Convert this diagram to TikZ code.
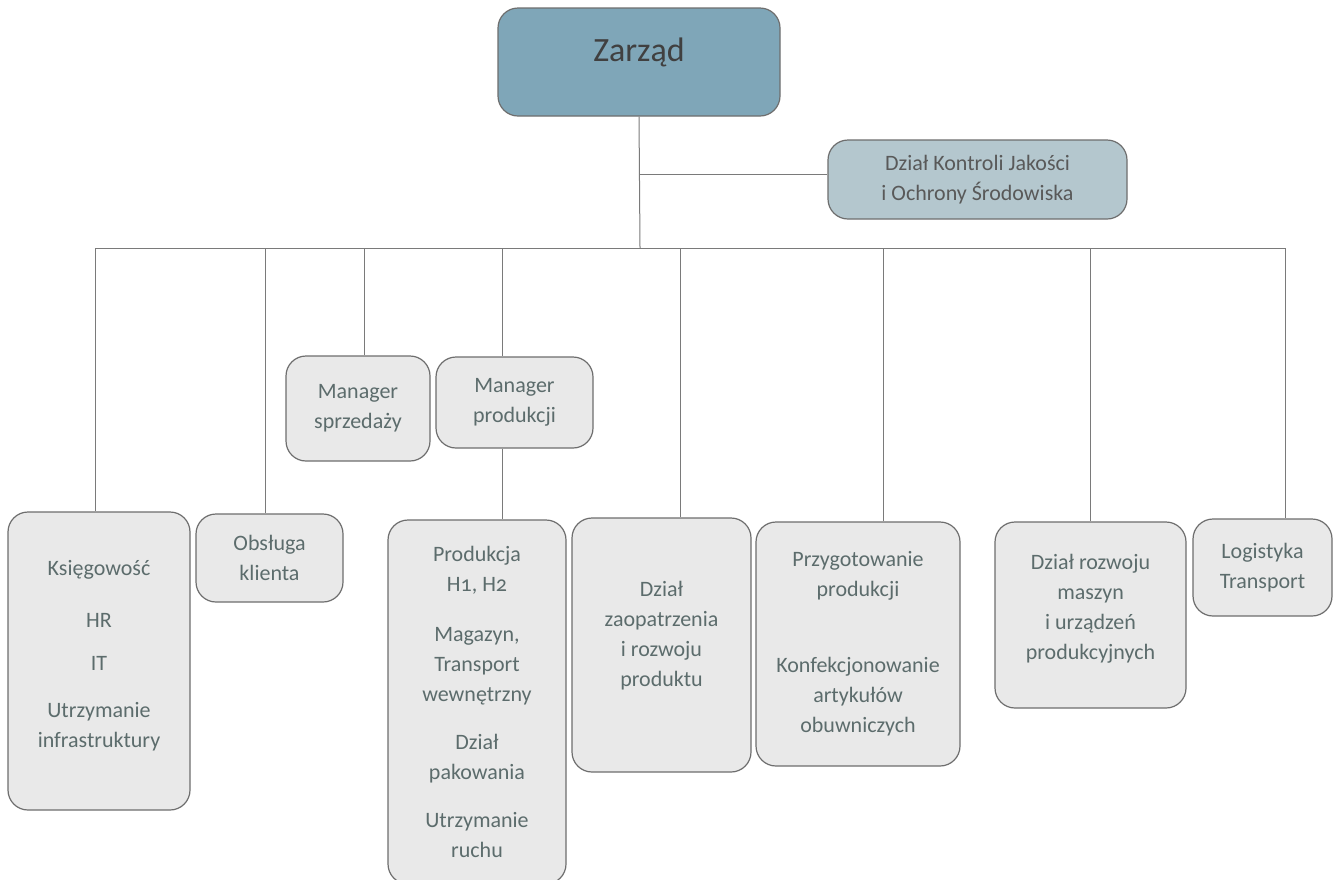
\documentclass[tikz,border=0pt]{standalone}
\usepackage{fontspec}
\setmainfont{Carlito}
\usepackage{tikz}
\usetikzlibrary{positioning}
\usetikzlibrary{calc}
\definecolor{boardfill}{HTML}{7FA6B8}
\definecolor{qcfill}{HTML}{B4C7CE}
\definecolor{deptfill}{HTML}{E9E9E9}
\definecolor{depttext}{HTML}{5C6C6C}
\definecolor{linegray}{HTML}{7A7A7A}
\tikzset{every picture/.style={line width=0.6pt},
  dept/.style={draw=linegray!90!black,fill=deptfill,rounded corners=10pt,align=center,text=depttext,font=\fontsize{11}{15}\selectfont,inner sep=2pt},
  conn/.style={draw=linegray,line width=0.5pt}}

\begin{document}
\begin{tikzpicture}[x=0.5pt,y=-0.5pt]
\useasboundingbox (0,0) rectangle (1336,879);
\fill[white] (0,0) rectangle (1336,879);

\node (zarzad) at (639,62) [dept,fill=boardfill,text=black!75,minimum width=141pt,minimum height=54pt,font=\fontsize{17}{20}\selectfont] {Zarząd\\[-8pt]};
\node (qc) at (977.5,179.5) [dept,fill=qcfill,text=black!65,minimum width=149.5pt,minimum height=39.5pt] {Dział Kontroli Jakości\\i Ochrony Środowiska};

\node (ksieg) at (99,661) [dept,minimum width=91pt,minimum height=149pt] {Księgowość\\[11pt]HR\\[6.5pt]IT\\[8.5pt]Utrzymanie\\infrastruktury\\[-8pt]};
\node (obsl) at (269.5,558) [dept,minimum width=73.5pt,minimum height=44pt] {Obsługa\\klienta};
\node (msprz) at (358,408.5) [dept,minimum width=72pt,minimum height=52.5pt] {Manager\\sprzedaży};
\node (mprod) at (514.5,402.5) [dept,minimum width=78.5pt,minimum height=45.5pt] {Manager\\produkcji};
\node (prod) at (477,702) [dept,minimum width=89pt,minimum height=182pt] {Produkcja\\{\addfontfeatures{Numbers=OldStyle}H1, H2}\\[10pt]Magazyn,\\Transport\\wewnętrzny\\[9pt]Dział\\pakowania\\[9pt]Utrzymanie\\ruchu};
\node (zaop) at (661.5,645) [dept,minimum width=89.5pt,minimum height=127pt] {Dział\\zaopatrzenia\\i rozwoju\\produktu\\[-4pt]};
\node (przyg) at (858,644) [dept,minimum width=102pt,minimum height=122pt] {Przygotowanie\\produkcji\\[23pt]Konfekcjonowanie\\artykułów\\obuwniczych};
\node (rozw) at (1090.5,615) [dept,minimum width=95.5pt,minimum height=93pt] {Dział rozwoju\\maszyn\\i urządzeń\\produkcyjnych\\[-7pt]};
\node (logi) at (1262.5,567.5) [dept,minimum width=69.5pt,minimum height=48.5pt] {Logistyka\\Transport};

% connectors
\coordinate (bus) at (640,248);
\draw[conn] (zarzad.south) -- (bus);
\draw[conn] (zarzad.south |- 0,174) -- (qc.west |- 0,174);
\foreach \n/\dx in {ksieg/-2pt, obsl/-2.25pt, msprz/3pt, mprod/-6.25pt, zaop/9.25pt, przyg/12.5pt, rozw/0pt, logi/11.25pt} {
\draw[conn] (bus) -| ([xshift=\dx]\n.north);
}
\draw[conn] ([xshift=-6.25pt]mprod.south) -- ([xshift=-6.25pt]mprod.south |- prod.north);

\end{tikzpicture}
\end{document}
